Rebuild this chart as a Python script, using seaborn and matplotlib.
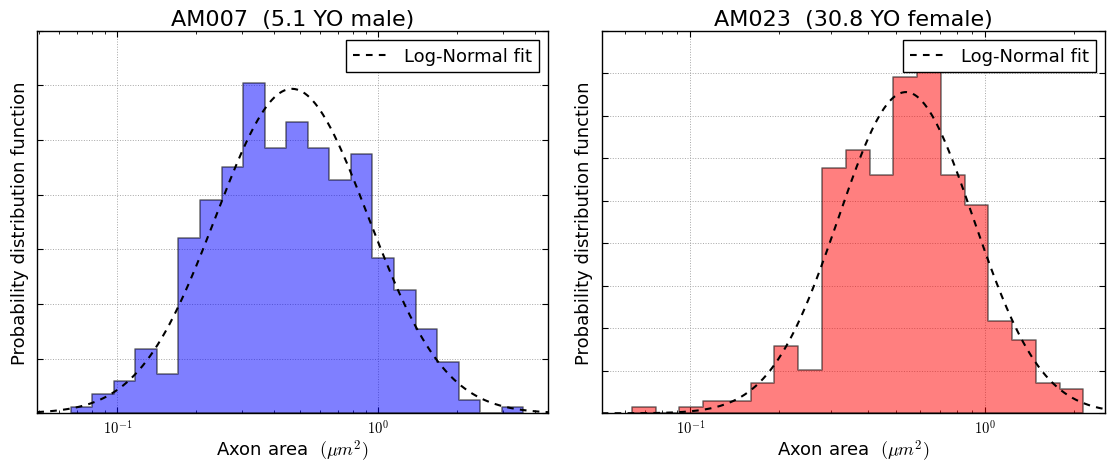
import numpy as np
import pandas as pd
import matplotlib
matplotlib.use("Agg")
import matplotlib.pyplot as plt
from matplotlib.ticker import FuncFormatter, MultipleLocator
import seaborn as sns

# ---------------- data ----------------
titles = ["AM007  (5.1 YO male)", "AM023  (30.8 YO female)"]
colors = ["#0000ff", "#ff0000"]

# histogram: counts per log-spaced bin, and the outer bin edges (um^2)
am007_counts = [1, 3, 5, 10, 6, 27, 33, 38, 51, 41, 45, 41, 36, 40, 24, 19, 13, 8, 2, 0, 1]
am007_bin_lo, am007_bin_hi = 0.0663, 3.594
am023_counts = [1, 0, 1, 2, 2, 5, 11, 7, 40, 43, 39, 55, 59, 39, 34, 15, 12, 5, 4]
am023_bin_lo, am023_bin_hi = 0.0633, 2.155

# log-normal fit parameters (median in um^2, sigma of ln x)
am007_fit_median, am007_fit_sigma = 0.467, 0.672
am023_fit_median, am023_fit_sigma = 0.538, 0.528

# x-axis limits
am007_xlim = (0.0494, 4.48)
am023_xlim = (0.0500, 2.55)
ylims = [(0, 0.7), (0, 0.9)]

panels = [
    (am007_counts, am007_bin_lo, am007_bin_hi, am007_fit_median, am007_fit_sigma, am007_xlim),
    (am023_counts, am023_bin_lo, am023_bin_hi, am023_fit_median, am023_fit_sigma, am023_xlim),
]

# ---------------- style ----------------
sns.set_theme(style="white")
plt.rcParams.update({
    "font.family": ["DejaVu Sans"],
    "mathtext.fontset": "cm",
    "text.color": "black",
    "axes.labelcolor": "black",
    "axes.edgecolor": "black",
    "axes.linewidth": 1.0,
    "xtick.direction": "in",
    "ytick.direction": "in",
    "xtick.top": True,
    "ytick.right": True,
    "xtick.bottom": True,
    "ytick.left": True,
    "xtick.major.size": 4,
    "xtick.minor.size": 2,
    "ytick.major.size": 4,
    "xtick.major.width": 0.8,
    "xtick.minor.width": 0.6,
    "ytick.major.width": 0.8,
    "xtick.color": "black",
    "ytick.color": "black",
    "grid.color": "0.65",
    "grid.linestyle": ":",
    "grid.linewidth": 0.7,
})

fig = plt.figure(figsize=(11.07, 4.64), dpi=100)
positions = [
    [37.3 / 1107, 1 - 414.3 / 464, (548.3 - 37.3) / 1107, (414.3 - 31.7) / 464],
    [601.7 / 1107, 1 - 414.3 / 464, (1105.0 - 601.7) / 1107, (414.3 - 31.7) / 464],
]

for i, (counts, lo, hi, med, sig, xlim) in enumerate(panels):
    ax = fig.add_axes(positions[i])
    ax.set_axisbelow(True)
    counts = np.asarray(counts, dtype=float)
    nb = len(counts)
    log_edges = np.linspace(np.log10(lo), np.log10(hi), nb + 1)
    centers = 10 ** (0.5 * (log_edges[:-1] + log_edges[1:]))
    dln = (log_edges[1] - log_edges[0]) * np.log(10)
    dens = counts / (counts.sum() * dln)
    df = pd.DataFrame({"area": centers, "pdf": dens})

    sns.histplot(data=df, x="area", weights="pdf", bins=list(log_edges), log_scale=True,
                 element="step", fill=True, color=colors[i], alpha=0.5,
                 edgecolor=(0, 0, 0, 0.5), linewidth=1.2, ax=ax, stat="count")

    xs = np.logspace(np.log10(xlim[0]), np.log10(xlim[1]), 400)
    mu = np.log(med)
    fit = np.exp(-(np.log(xs) - mu) ** 2 / (2 * sig ** 2)) / (sig * np.sqrt(2 * np.pi))
    sns.lineplot(x=xs, y=fit, color="black", linestyle=(0, (3.2, 3)), linewidth=1.5,
                 label="Log-Normal fit", ax=ax)

    ax.set_xscale("log")
    ax.set_xlim(*xlim)
    ax.set_ylim(*ylims[i])
    ax.yaxis.set_major_locator(MultipleLocator(0.1))
    ax.tick_params(axis="y", labelleft=False, labelright=False)
    ax.xaxis.set_major_formatter(FuncFormatter(lambda v, p: r"$10^{%d}$" % int(round(np.log10(v)))))
    ax.tick_params(axis="x", which="major", labelsize=10.5, pad=3)
    ax.grid(True, which="major")
    for s in ax.spines.values():
        s.set_color("black")
        s.set_linewidth(1.0)

    ax.set_title(titles[i], fontsize=16, pad=4)
    ax.set_xlabel(r"Axon area  $(\mu m^2)$", fontsize=13, labelpad=2)
    ax.set_ylabel("Probability distribution function", fontsize=13, labelpad=6)
    leg = ax.legend(loc="upper right", fontsize=13, frameon=True, fancybox=False,
                    framealpha=1, edgecolor="black", borderpad=0.4, handlelength=2.0,
                    handletextpad=0.8, borderaxespad=0.5)
    leg.get_frame().set_linewidth(1.0)

fig.savefig("out.png", dpi=100)
